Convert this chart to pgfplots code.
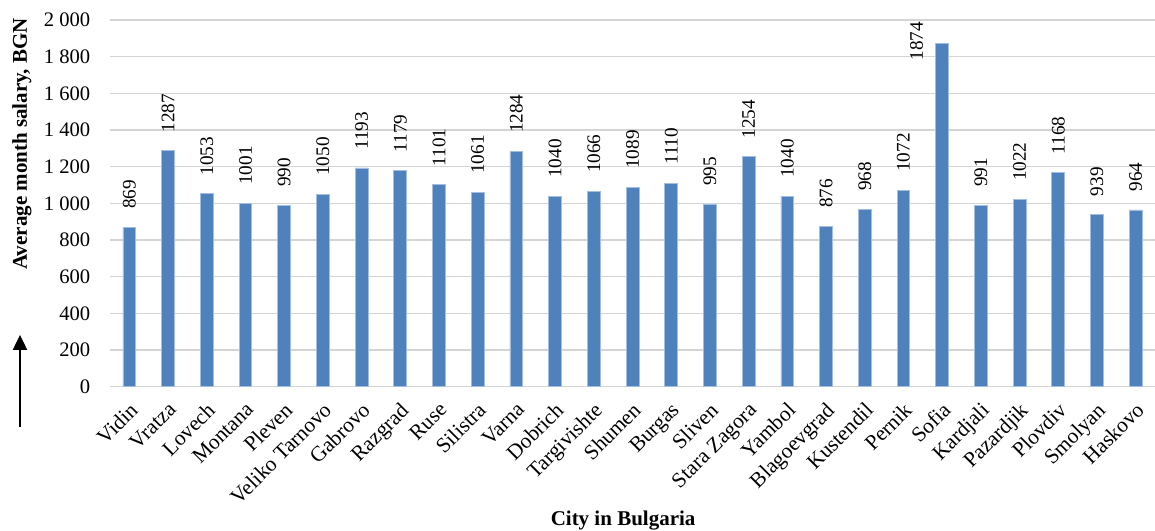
\documentclass[border=0pt]{standalone}
\usepackage{fontspec}
\setmainfont{Liberation Serif}
\usepackage{pgfplots}
\pgfplotsset{compat=1.18}
\usetikzlibrary{arrows.meta}
\definecolor{barblue}{HTML}{4F81BD}
\definecolor{baredge}{HTML}{A3BEE0}
\definecolor{gridgray}{HTML}{D4D4D4}
\begin{document}
\begin{tikzpicture}
\begin{axis}[
  scale only axis, width=522.5pt, height=183.35pt,
  xmin=-0.5, xmax=26.5, ymin=0, ymax=2000,
  ybar, bar width=6.4pt,
  xtick={0,...,26},
  xticklabels={Vidin,Vratza,Lovech,Montana,Pleven,Veliko Tarnovo,Gabrovo,Razgrad,Ruse,Silistra,Varna,Dobrich,Targivishte,Shumen,Burgas,Sliven,Stara Zagora,Yambol,Blagoevgrad,Kustendil,Pernik,Sofia,Kardjali,Pazardjik,Plovdiv,Smolyan,Haskovo},
  ytick={0,200,...,2000},
  yticklabels={0,200,400,600,800,1 000,1 200,1 400,1 600,1 800,2 000},
  yticklabel style={font=\fontsize{10.3}{12}\selectfont, inner sep=0pt, xshift=-9.7pt},
  xticklabel style={font=\fontsize{10.7}{13}\selectfont, xshift=-0.5pt, yshift=-7pt, rotate=45, anchor=north east, inner sep=0pt},
  axis line style={draw=none},
  major tick length=0pt,
  ymajorgrids, grid style={draw=gridgray, line width=0.7pt},
  ylabel={Average month salary, BGN},
  xlabel={City in Bulgaria},
  every axis y label/.style={at={(rel axis cs:0,0.662)}, xshift=-44pt, rotate=90, anchor=center, font=\bfseries\fontsize{10.5}{12}\selectfont},
  every axis x label/.style={at={(rel axis cs:0.491,0)}, yshift=-67pt, anchor=center, font=\bfseries\fontsize{10.5}{12}\selectfont},
  point meta=explicit symbolic,
]
\addplot[fill=barblue, draw=baredge, line width=0.4pt, bar shift=0pt,
  nodes near coords,
  every node near coord/.append style={font=\fontsize{9.6}{11}\selectfont, yshift=9pt, rotate=90, anchor=west, inner sep=0pt}]
coordinates {
(0,869)[869] (1,1287)[1287] (2,1053)[1053] (3,1001)[1001] (4,990)[990]
(5,1050)[1050] (6,1193)[1193] (7,1179)[1179] (8,1101)[1101] (9,1061)[1061]
(10,1284)[1284] (11,1040)[1040] (12,1066)[1066] (13,1089)[1089] (14,1110)[1110]
(15,995)[995] (16,1254)[1254] (17,1040)[1040] (18,876)[876] (19,968)[968]
(20,1072)[1072] (22,991)[991] (23,1022)[1022] (24,1168)[1168]
(25,939)[939] (26,964)[964]
};
\addplot[fill=barblue, draw=baredge, line width=0.4pt, bar shift=0pt,
  nodes near coords,
  every node near coord/.append style={font=\fontsize{9.6}{11}\selectfont, xshift=-12.75pt, yshift=10.7pt, rotate=90, anchor=east, inner sep=0pt}]
coordinates {(21,1874)[1874]};
\end{axis}
\draw[line width=1pt, -{Triangle[length=7.5pt, width=7pt]}] (-45pt,-20.2pt) -- (-45pt,25.9pt);
\pgfresetboundingbox
\path[use as bounding box] (-55pt,-71.65pt) rectangle (522.5pt,193.35pt);
\end{tikzpicture}
\end{document}
